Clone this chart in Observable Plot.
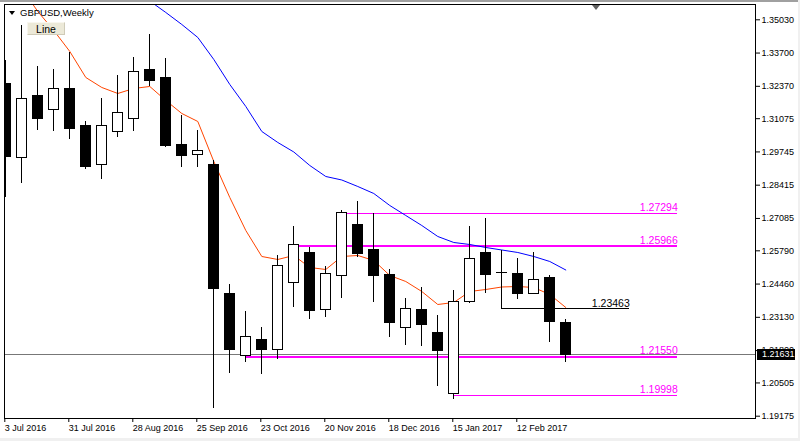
<!DOCTYPE html>
<html>
<head>
<meta charset="utf-8">
<script src="https://cdn.jsdelivr.net/npm/d3@7"></script>
<script src="https://cdn.jsdelivr.net/npm/@observablehq/plot@0.6"></script>
<style>
  html, body { margin: 0; padding: 0; background: #fff; }
  #wrap { position: relative; width: 800px; height: 441px; overflow: hidden; font-family: "Liberation Sans", Arial, sans-serif; }
  #wrap svg rect, #wrap svg line { shape-rendering: crispEdges; }
  .title { position: absolute; left: 20px; top: 7px; font-size: 9.5px; color: #000; white-space: nowrap; }
  .tri { position: absolute; left: 9px; top: 11px; width: 0; height: 0; border-left: 3.5px solid transparent; border-right: 3.5px solid transparent; border-top: 4px solid #000; }
  .btn { position: absolute; left: 27px; top: 22px; width: 38px; height: 13px; background: #ece9d8; border-top: 1px solid #f8f6ee; border-left: 1px solid #f8f6ee; border-bottom: 1px solid #cfcbb8; border-right: 1px solid #cfcbb8; box-sizing: border-box; font-size: 10.5px; line-height: 12px; text-align: center; color: #000; }
  .shift { position: absolute; left: 592px; top: 5px; width: 0; height: 0; border-left: 4.5px solid transparent; border-right: 4.5px solid transparent; border-top: 5px solid #606060; }
  .topbar { position: absolute; left: 0; top: 0; width: 800px; height: 2px; background: #a0a0a0; }
  .botbar { position: absolute; left: 0; top: 438px; width: 800px; height: 3px; background: #f0f0f0; }
  .rbar { position: absolute; left: 798px; top: 0; width: 2px; height: 441px; background: #f0f0f0; }
</style>
</head>
<body>
<div id="wrap"></div>
<script>
// ---- data (GBPUSD weekly) ----
const weeks = ["2016-07-03","2016-07-10","2016-07-17","2016-07-24","2016-07-31","2016-08-07","2016-08-14","2016-08-21","2016-08-28","2016-09-04","2016-09-11","2016-09-18","2016-09-25","2016-10-02","2016-10-09","2016-10-16","2016-10-23","2016-10-30","2016-11-06","2016-11-13","2016-11-20","2016-11-27","2016-12-04","2016-12-11","2016-12-18","2016-12-25","2017-01-01","2017-01-08","2017-01-15","2017-01-22","2017-01-29","2017-02-05","2017-02-12","2017-02-19","2017-02-26","2017-03-05"];
const open  = [1.32443,1.29511,1.31963,1.31431,1.32243,1.30763,1.29231,1.30551,1.31071,1.33003,1.32683,1.30003,1.29603,1.29203,1.24043,1.21563,1.22203,1.21835,1.24511,1.25683,1.23431,1.24791,1.26803,1.25831,1.24803,1.22711,1.23403,1.22511,1.20043,1.23751,1.25695,1.24891,1.24871,1.24055,1.24711,1.22883];
const high  = [1.33403,1.34803,1.33163,1.33043,1.33735,1.30963,1.31883,1.32803,1.33523,1.34455,1.33483,1.31203,1.30603,1.29403,1.24443,1.23363,1.22735,1.25603,1.26775,1.25911,1.25163,1.27403,1.27763,1.27295,1.25043,1.23883,1.24311,1.23203,1.24203,1.26775,1.27071,1.25803,1.25471,1.25723,1.24803,1.23043];
const low   = [1.27923,1.28495,1.30603,1.30563,1.30231,1.29031,1.28655,1.30335,1.30575,1.32363,1.29923,1.29135,1.29135,1.19471,1.20895,1.21335,1.20831,1.21431,1.23511,1.23031,1.23135,1.23871,1.25535,1.23735,1.22311,1.22015,1.21975,1.20375,1.19843,1.23695,1.24095,1.23463,1.23831,1.24031,1.22135,1.21335];
const close = [1.29523,1.31843,1.31055,1.32243,1.30655,1.29135,1.30763,1.31311,1.32923,1.32575,1.29963,1.29575,1.29763,1.24271,1.21815,1.22323,1.21831,1.25191,1.26003,1.23375,1.24871,1.27311,1.25671,1.24775,1.22895,1.23443,1.22803,1.21775,1.23751,1.25471,1.24815,1.24895,1.24043,1.24603,1.22935,1.21631];
const maFast = [1.37203,1.36283,1.35363,1.34603,1.33763,1.32723,1.32323,1.32083,1.32283,1.32363,1.31803,1.31283,1.30963,1.29363,1.27923,1.26603,1.25563,1.25443,1.25603,1.25123,1.25043,1.25563,1.25603,1.25403,1.24803,1.24563,1.24163,1.23643,1.23723,1.24163,1.24243,1.24343,1.24363,1.24323,1.24043,1.23523];
const maSlow = [null,null,null,null,null,null,null,1.36803,1.36283,1.35783,1.35323,1.34843,1.34323,1.33443,1.32443,1.31563,1.30563,1.30123,1.29743,1.29203,1.28763,1.28623,1.28363,1.28083,1.27603,1.27203,1.26803,1.26363,1.26123,1.26043,1.25923,1.25823,1.25723,1.25563,1.25363,1.25023];

const yTicks = [1.35030,1.33700,1.32370,1.31075,1.29745,1.28415,1.27085,1.25790,1.24460,1.23130,1.21800,1.20505,1.19175];
const xTicks = ["2016-07-03","2016-07-31","2016-08-28","2016-09-25","2016-10-23","2016-11-20","2016-12-18","2017-01-15","2017-02-12"];

const levelValues = [1.27294, 1.25966, 1.21550, 1.19998];
const levelStart  = ["2016-11-27","2016-11-06","2016-10-16","2017-01-15"];
const levelEnd    = ["2017-04-23","2017-04-23","2017-04-23","2017-04-23"];
const levelThick  = [false, true, true, false];

const markValue = 1.23463, markStart = "2017-02-05", markEnd = "2017-04-02";
const currentPrice = 1.21631;

// ---- build ----
const day = 864e5;
const parse = s => new Date(s + "T00:00:00Z");
const bars = weeks.map((w, i) => ({date: parse(w), open: open[i], high: high[i], low: low[i], close: close[i], maFast: maFast[i], maSlow: maSlow[i]}));
const levels = levelValues.map((v, i) => ({value: v, start: parse(levelStart[i]), end: parse(levelEnd[i]), thick: levelThick[i]}));
const mark = [{value: markValue, start: parse(markStart), end: parse(markEnd)}];

const t0 = parse(weeks[0]);
const xDomain = [new Date(+t0 - 0.57 * day), new Date(+t0 + 328 * day)];
const yDomain = [1.19083, 1.35642];

const chart = Plot.plot({
  width: 800, height: 441,
  marginTop: 4, marginBottom: 23, marginLeft: 4, marginRight: 45,
  style: {fontFamily: "Liberation Sans, Arial, sans-serif", fontSize: "9px", background: "white", color: "black"},
  x: {type: "utc", domain: xDomain},
  y: {domain: yDomain},
  marks: [
    Plot.ruleY([currentPrice], {stroke: "#777777", strokeWidth: 1}),
    Plot.ruleY(levels.filter(d => d.thick), {y: "value", x1: "start", x2: "end", stroke: "#ff00ff", strokeWidth: 2}),
    Plot.ruleY(levels.filter(d => !d.thick), {y: "value", x1: "start", x2: "end", stroke: "#ff00ff", strokeWidth: 1}),
    Plot.ruleY(mark, {y: "value", x1: "start", x2: "end", stroke: "black", strokeWidth: 1}),
    Plot.line(bars, {x: "date", y: "maSlow", stroke: "#0000ff", strokeWidth: 1, clip: true}),
    Plot.line(bars, {x: "date", y: "maFast", stroke: "#ff4500", strokeWidth: 1, clip: true}),
    Plot.ruleX(bars, {x: "date", y1: "low", y2: "high", stroke: "black", strokeWidth: 1, clip: true}),
    Plot.rect(bars, {
      x1: d => new Date(+d.date - 2.1 * day),
      x2: d => new Date(+d.date + 2.1 * day),
      y1: "open", y2: "close",
      fill: d => d.close >= d.open ? "white" : "black",
      stroke: "black", strokeWidth: 1, clip: true
    }),
    Plot.text(levels, {x: "end", y: "value", text: d => d.value.toFixed(5), textAnchor: "end", lineAnchor: "bottom", dy: -2.5, fill: "#ff00ff", fontSize: 10.5}),
    Plot.text(mark, {x: "end", y: "value", text: d => d.value.toFixed(5), textAnchor: "end", lineAnchor: "bottom", dy: -2.3, fill: "black", fontSize: 10.5}),
    Plot.frame({stroke: "black"}),
    Plot.axisY(yTicks, {anchor: "right", tickSize: 4, tickPadding: 2, tickFormat: d => d.toFixed(5), label: null, fontSize: 9}),
    Plot.axisX(xTicks.map(parse), {anchor: "bottom", tickSize: 4, tickPadding: 2, tickFormat: d3.utcFormat("%-d %b %Y"), textAnchor: "start", dx: -1, label: null, fontSize: 9})
  ]
});

const wrap = document.getElementById("wrap");
wrap.appendChild(chart);

// current-price tag on the price scale
const svg = d3.select(chart);
const yPix = chart.scale("y").apply(currentPrice);
const xRight = chart.scale("x").range[1];
const tag = svg.append("g");
tag.append("rect").attr("x", xRight + 2).attr("y", yPix - 5).attr("width", 38).attr("height", 10.5).attr("fill", "black");
tag.append("text").attr("x", xRight + 7).attr("y", yPix).attr("dy", "0.34em")
   .attr("text-anchor", "start")
   .attr("fill", "white").attr("font-size", 9).attr("font-family", "Liberation Sans, Arial, sans-serif")
   .text(currentPrice.toFixed(5));

// window chrome
const add = (cls, txt) => { const e = document.createElement("div"); e.className = cls; if (txt) e.textContent = txt; wrap.appendChild(e); };
add("topbar"); add("botbar"); add("rbar");
add("tri"); add("title", "GBPUSD,Weekly"); add("btn", "Line"); add("shift");
</script>
</body>
</html>
